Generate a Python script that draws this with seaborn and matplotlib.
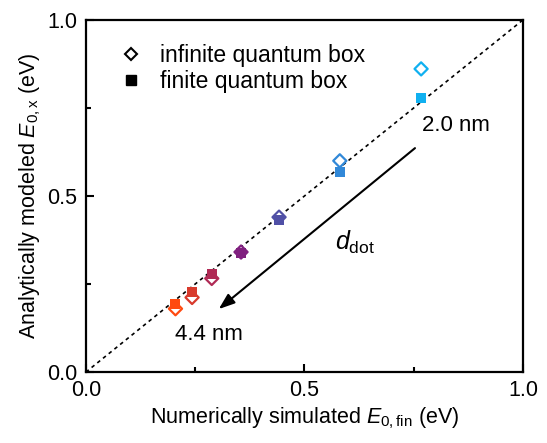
import matplotlib
matplotlib.use("Agg")
import matplotlib.pyplot as plt
import seaborn as sns
import pandas as pd
from matplotlib.lines import Line2D

sns.set_theme(style="white")
plt.rcParams['font.family'] = ['Liberation Sans', 'DejaVu Sans']
plt.rcParams['mathtext.fontset'] = 'custom'
plt.rcParams['mathtext.rm'] = 'Liberation Sans'
plt.rcParams['mathtext.it'] = 'Liberation Sans:italic'
plt.rcParams['text.color'] = 'black'
plt.rcParams['axes.labelcolor'] = 'black'
plt.rcParams['xtick.color'] = 'black'
plt.rcParams['ytick.color'] = 'black'

# data (dot size 4.4 nm -> 2.0 nm)
sizes = ["4.4", "4.0", "3.6", "3.2", "2.8", "2.4", "2.0"]
e_fin = [0.205, 0.243, 0.288, 0.355, 0.442, 0.581, 0.767]
e_inf = [0.180, 0.212, 0.266, 0.341, 0.440, 0.600, 0.861]
e_fin_model = [0.194, 0.227, 0.278, 0.337, 0.432, 0.568, 0.778]
colors = ["#ff4a10", "#d83a2c", "#b02a55", "#80207f", "#5050a6", "#3188d8", "#10b0f0"]

df = pd.DataFrame({"size": sizes, "x": e_fin, "inf": e_inf, "fin": e_fin_model})
pal = dict(zip(sizes, colors))

fig = plt.figure(figsize=(5.47, 4.43), dpi=100)
ax = fig.add_axes([0.157, 0.160, 0.799, 0.795])

ax.plot([0, 1], [0, 1], color="black", linestyle=(0, (2.2, 2.2)), lw=1.2, zorder=1)

sns.scatterplot(data=df, x="x", y="inf", hue="size", palette=pal, marker="D",
                s=45, facecolor="white", linewidth=1.6, legend=False, ax=ax, zorder=3)
coll = ax.collections[-1]
coll.set_edgecolors(colors)
coll.set_facecolors("white")
sns.scatterplot(data=df, x="x", y="fin", hue="size", palette=pal, marker="s",
                s=52, linewidth=0, legend=False, ax=ax, zorder=4)

ax.annotate("", xy=(0.304, 0.179), xytext=(0.753, 0.636),
            arrowprops=dict(arrowstyle="-|>,head_length=0.6,head_width=0.22", color="black", lw=1.5,
                            mutation_scale=16, shrinkA=0, shrinkB=0))
ax.text(0.769, 0.70, "2.0 nm", fontsize=16, va="center", ha="left")
ax.text(0.205, 0.108, "4.4 nm", fontsize=16, va="center", ha="left")
ax.text(0.57, 0.367, r"$\mathit{d}_{\mathrm{dot}}$", fontsize=18, va="center", ha="left")

handles = [
    Line2D([], [], marker="D", linestyle="none", markerfacecolor="white",
           markeredgecolor="black", markeredgewidth=1.5, markersize=6.5),
    Line2D([], [], marker="s", linestyle="none", color="black", markersize=7),
]
ax.legend(handles, ["infinite quantum box", "finite quantum box"], loc="upper left",
          bbox_to_anchor=(0.03, 0.99), frameon=False, fontsize=16.5,
          handletextpad=0.75, labelspacing=0.12, handlelength=1.0)

ax.set_xlim(0, 1)
ax.set_ylim(0, 1)
ax.set_xticks([0, 0.5, 1.0])
ax.set_yticks([0, 0.5, 1.0])
ax.set_xticklabels(["0.0", "0.5", "1.0"])
ax.set_yticklabels(["0.0", "0.5", "1.0"])
ax.set_xticks([0.25, 0.75], minor=True)
ax.set_yticks([0.25, 0.75], minor=True)
ax.tick_params(which="both", direction="in", bottom=True, left=True, top=False, right=False,
               labelsize=15.5, width=1.5, color="black")
ax.tick_params(which="major", length=6)
ax.tick_params(axis="x", which="major", pad=6)
ax.tick_params(axis="y", which="major", pad=6)
ax.tick_params(which="minor", length=3.5)
for sp in ax.spines.values():
    sp.set_color("black")
    sp.set_linewidth(1.6)

ax.set_xlabel(r"Numerically simulated $\mathit{E}_{\mathrm{0,fin}}$ (eV)", fontsize=15.5, labelpad=3)
ax.set_ylabel(r"Analytically modeled $\mathit{E}_{\mathrm{0,x}}$ (eV)", fontsize=15.5, labelpad=3)

fig.savefig("out.png", dpi=100)
